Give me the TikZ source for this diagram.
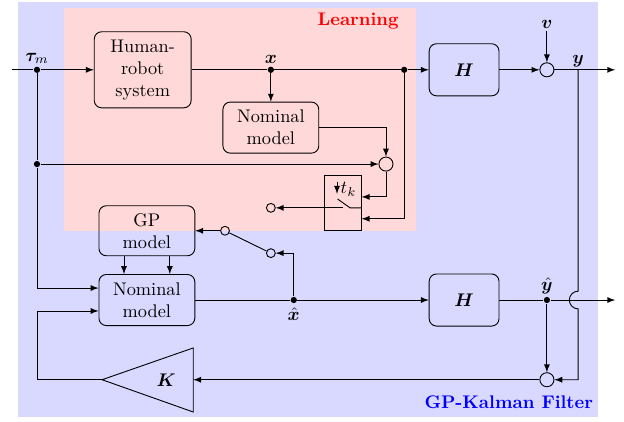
\documentclass[tikz,border=0pt]{standalone}
\usepackage{amsmath}
\usepackage{bm}
\usetikzlibrary{arrows}

\tikzset{
  blk/.style={draw, rounded corners=4pt, align=center, minimum width=1.84cm, minimum height=0.98cm},
  hblk/.style={blk, minimum width=1.34cm, minimum height=1.0cm},
  sum/.style={draw, circle, inner sep=0pt, minimum size=0.27cm},
  contact/.style={draw, circle, inner sep=0pt, minimum size=0.17cm},
  dot/.style={circle, fill, inner sep=0pt, minimum size=0.12cm},
}

\begin{document}
\begin{tikzpicture}[>=latex, line width=0.5pt]
  % filter and learning areas
  \fill[blue!15] (0.35,0.10) rectangle (11.48,8.06);
  \fill[red!15] (1.23,3.67) rectangle (7.99,7.95);
  \useasboundingbox (0,0) rectangle (11.98,8.10);
  \node[red, font=\bfseries, anchor=north east] (learn) at (7.78,7.97) {Learning};
  \node[blue, font=\bfseries, anchor=south east] (gpkf) at (11.51,0.13) {GP-Kalman Filter};

  % plant
  \coordinate (tin) at (0.23,6.76);
  \node[dot, label={[inner sep=1pt]above:$\bm{\tau}_m$}] (tdot) at (0.71,6.76) {};
  \node[blk, minimum width=1.86cm, minimum height=1.46cm] (hrs) at (2.74,6.76) {Human-\\robot\\system};
  \node[dot, label={[inner sep=1pt]above:$\bm{x}$}] (xdot) at (5.20,6.76) {};
  \node[dot] (hdot) at (7.76,6.76) {};
  \node[hblk] (H1) at (8.91,6.76) {$\bm{H}$};
  \node[sum] (sum1) at (10.50,6.76) {};
  \coordinate[label={[inner sep=1pt]above:$\bm{v}$}] (vin) at (10.50,7.51);
  \coordinate[label={[inner sep=1pt]above:$\bm{y}$}] (ybr) at (11.10,6.76);
  \coordinate (yout) at (11.81,6.76);

  % learning loop
  \node[blk] (nom1) at (5.20,5.65) {Nominal\\model};
  \node[sum] (cmp) at (7.41,4.95) {};
  \node[dot] (tdot2) at (0.71,4.95) {};
  \node[draw, minimum width=0.71cm, minimum height=1.06cm] (sw) at (6.58,4.20) {};
  \node[contact] (c0) at (5.20,4.11) {};
  \draw[->] (6.47,4.61) -- (6.47,4.38);
  \node[inner sep=1pt] (tk) at (6.69,4.47) {$t_k$};
  \draw (6.22,4.11) -- (6.59,4.11);
  \draw (6.48,4.28) -- (6.72,4.11) -- (6.93,4.11);

  % estimator
  \node[blk, minimum height=0.96cm] (gp) at (2.82,3.67) {GP\\model};
  \node[blk] (nom2) at (2.82,2.34) {Nominal\\model};
  \node[contact] (c1) at (4.32,3.67) {};
  \node[contact] (c2) at (5.20,3.24) {};
  \node[dot, label={[inner sep=2pt]below:$\hat{\bm{x}}$}] (xhat) at (5.64,2.34) {};
  \node[hblk] (H2) at (8.91,2.34) {$\bm{H}$};
  \node[dot, label={[inner sep=1pt]above:$\hat{\bm{y}}$}] (yhat) at (10.50,2.34) {};
  \coordinate (yhout) at (11.81,2.34);
  \node[sum] (sum2) at (10.50,0.81) {};
  \coordinate (ktip) at (1.96,0.81);
  \coordinate (kin) at (3.71,0.81);
  \draw (ktip) -- (3.71,1.42) -- (3.71,0.19) -- cycle;
  \node (kgain) at (3.19,0.81) {$\bm{K}$};
  \coordinate (fb) at (0.71,0.81);
  \coordinate (jtop) at (11.10,2.51);

  % forward path
  \draw (tin) -- (tdot);
  \draw[->] (tdot) -- (hrs);
  \draw (hrs) -- (xdot) -- (hdot);
  \draw[->] (hdot) -- (H1);
  \draw[->] (H1) -- (sum1);
  \draw[->] (vin) -- (sum1);
  \draw[->] (sum1) -- (yout);

  % learning connections
  \draw[->] (xdot) -- (nom1);
  \draw[->] (nom1.east) -| (cmp);
  \draw (tdot) -- (tdot2);
  \draw[->] (tdot2) -- (cmp);
  \draw[->] (cmp) |- ([yshift=0.12cm]sw.east);
  \draw[->] (hdot) |- ([yshift=-0.30cm]sw.east);
  \draw[->] (sw.west |- c0) -- (c0);

  % estimator connections
  \draw[->] (tdot2) |- ([yshift=0.23cm]nom2.west);
  \draw[->] (ktip) -- (fb) |- ([yshift=-0.21cm]nom2.west);
  \draw[->] ([xshift=-0.44cm]gp.south) -- ([xshift=-0.44cm]nom2.north);
  \draw[->] ([xshift=0.44cm]gp.south) -- ([xshift=0.44cm]nom2.north);
  \draw[->] (c1) -- (gp);
  \draw (c1) -- (c2);
  \draw[->] (xhat) |- (c2);
  \draw (nom2) -- (xhat);
  \draw[->] (xhat) -- (H2);
  \draw (H2) -- (yhat);
  \draw[->] (yhat) -- (yhout);
  \draw[->] (yhat) -- (sum2);
  \draw[->] (sum2) -- (kin);
  \draw[->] (ybr) -- (jtop) arc[start angle=90, end angle=270, radius=0.17cm] |- (sum2);
\end{tikzpicture}
\end{document}
